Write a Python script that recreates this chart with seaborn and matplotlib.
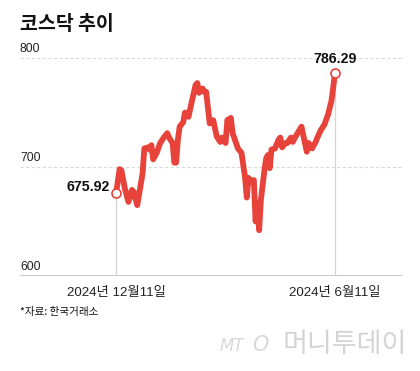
import matplotlib
matplotlib.use("Agg")
import matplotlib.pyplot as plt
import matplotlib.transforms as mtransforms
import seaborn as sns
import pandas as pd

# ---- data ----
day = [0, 2, 3, 5, 7, 9, 10, 12, 15, 16, 18, 19, 20, 21, 23, 25, 27, 29, 30, 32,
       33, 34, 35, 36, 38, 39, 41, 43, 45, 46, 47, 49, 50, 51, 53, 55, 57, 59, 60, 62,
       63, 65, 66, 69, 71, 73, 74, 75, 77, 78, 79, 80, 81, 82, 84, 85, 86, 87, 88, 90,
       92, 93, 94, 96, 97, 99, 100, 102, 105, 106, 108, 109, 111, 113, 114, 116, 118, 120, 122, 124]
kosdaq = [675.92, 698, 697, 680, 668, 679, 677, 665, 694, 717, 718, 716, 720, 707, 713, 722, 727, 731, 727, 722,
          704, 704, 725, 737, 741, 750, 746, 761, 775, 777, 768, 772, 769, 769, 740, 743, 728, 723, 727, 722,
          743, 745, 731, 717, 713, 691, 672, 690, 686, 688, 650, 667, 642, 670, 697, 708, 711, 699, 716, 717,
          725, 727, 718, 722, 722, 727, 723, 729, 737, 729, 714, 722, 717, 723, 727, 734, 739, 748, 761, 786.29]
y_ticks = [600, 700, 800]
x_tick_pos = [0, 124]
x_tick_labels = ["2024년 12월11일", "2024년 6월11일"]
title = "코스닥 추이"
source = "*자료: 한국거래소"

RED = "#e8433a"
FONT = ["Liberation Sans", "Noto Sans CJK KR", "DejaVu Sans"]
KFONT = ["Noto Sans CJK KR", "DejaVu Sans"]

df = pd.DataFrame({"day": day, "kosdaq": kosdaq})

sns.set_style("white")
plt.rcParams["font.family"] = FONT

fig = plt.figure(figsize=(4.2, 3.71), dpi=100)
ax = fig.add_axes([20 / 420, (371 - 276) / 371, 382 / 420, (276 - 58) / 371])

ax.set_xlim(-54.4, 161.9)
ax.set_ylim(600, 800)

# grid lines
for yv in y_ticks[1:]:
    ax.axhline(yv, color="#d9d9d9", lw=0.8, ls=(0, (3, 2)), zorder=0)
ax.axhline(600, color="#c4c4c4", lw=2.0, zorder=1)

# vertical guide lines from end points
ax.vlines([day[0], day[-1]], 600, [kosdaq[0], kosdaq[-1]], color="#d4d4d4", lw=0.9, zorder=1)

sns.lineplot(data=df, x="day", y="kosdaq", ax=ax, color=RED, lw=4.2,
             solid_joinstyle="round", solid_capstyle="round", zorder=3)

ax.plot([day[0], day[-1]], [kosdaq[0], kosdaq[-1]], ls="none", marker="o", ms=6.5,
        mfc="white", mec=RED, mew=1.2, zorder=4)

for s in ax.spines.values():
    s.set_visible(False)
ax.set_xticks([])
ax.set_yticks([])
ax.set_xlabel("")
ax.set_ylabel("")

# y tick labels, above gridlines
trans = mtransforms.blended_transform_factory(ax.transAxes, ax.transData)
for yv in y_ticks:
    ax.text(0.0, yv + 3, str(yv), transform=trans, ha="left", va="bottom",
            fontsize=8.8, color="#222222", family=FONT)

# x tick labels
for xp, lab in zip(x_tick_pos, x_tick_labels):
    ax.text(xp, 590, lab, ha="center", va="top", fontsize=9.6, color="#222222", family=FONT)

# point labels
ax.text(day[0] - 3.5, kosdaq[0] + 6, f"{kosdaq[0]:.2f}", ha="right", va="center",
        fontsize=10.2, fontweight="bold", color="#111111", family=FONT)
ax.text(day[-1], kosdaq[-1] + 6, f"{kosdaq[-1]:.2f}", ha="center", va="bottom",
        fontsize=10.2, fontweight="bold", color="#111111", family=FONT)

# title and source
fig.text(20 / 420, 1 - 25 / 371, title, ha="left", va="center", fontsize=14,
         fontweight="bold", color="#111111", family=KFONT)
fig.text(20 / 420, 1 - 312 / 371, source, ha="left", va="center", fontsize=7.6,
         color="#111111", family=KFONT)

# watermark
fig.text(244 / 420, 1 - 346 / 371, "MT", ha="right", va="center", fontsize=12,
         style="italic", color="#d8d8d8", family=["DejaVu Sans"])
fig.text(260 / 420, 1 - 345 / 371, "O", ha="center", va="center", fontsize=15,
         style="italic", color="#d8d8d8", family=["DejaVu Sans"])
fig.text(345 / 420, 1 - 345 / 371, "머니투데이", ha="center", va="center", fontsize=19.5,
         fontweight="light", color="#d4d4d4", family=KFONT)

fig.savefig("out.png", dpi=100)
